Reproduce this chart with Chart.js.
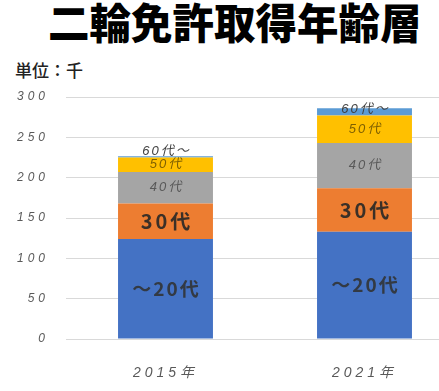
<!DOCTYPE html>
<html lang="ja">
<head>
<meta charset="UTF-8">
<title>二輪免許取得年齢層</title>
<script src="https://cdn.jsdelivr.net/npm/chart.js"></script>
<style>
    html, body { margin: 0; padding: 0; overflow: hidden; background: #fff; }
    body { width: 439px; height: 391px; position: relative; }
    .title {
        position: absolute; left: 48px; top: 1px;
        font: 900 41.5px "Noto Sans CJK JP", sans-serif;
        line-height: 1; color: #000; white-space: nowrap;
    }
    .unit {
        position: absolute; left: 15px; top: 61px;
        font: 500 17px "Noto Sans CJK JP", sans-serif;
        line-height: 1.1; color: #222;
    }
    .chart-box { position: absolute; left: 0; top: 80px; width: 480px; height: 311px; }
</style>
</head>
<body>
    <div class="title">二輪免許取得年齢層</div>
    <div class="unit">単位：千</div>
    <div class="chart-box"><canvas id="chart"></canvas></div>

<script>
// values in thousands
const categories = ['2015年', '2021年'];
const seriesNames = ['～20代', '30代', '40代', '50代', '60代～'];
const under20 = [124, 133];
const age30 = [44, 54];
const age40 = [39, 56];
const age50 = [18, 34];
const over60 = [1.5, 9];
const yMax = 300;
const yStep = 50;

const colors = ['#4472C4', '#ED7D31', '#A5A5A5', '#FFC000', '#5B9BD5'];
const labelStyles = [
    { font: 'bold 19px "Noto Sans CJK JP", sans-serif', color: '#333a44', spacing: '2px' },
    { font: 'bold 20px "Noto Sans CJK JP", sans-serif', color: '#3b3027', spacing: '3px' },
    { font: 'italic 13px "Liberation Sans", "Noto Sans CJK JP", sans-serif', color: '#595959', spacing: '2px' },
    { font: 'italic 13px "Liberation Sans", "Noto Sans CJK JP", sans-serif', color: '#7f6000', spacing: '2px' },
    { font: 'italic 13px "Liberation Sans", "Noto Sans CJK JP", sans-serif', color: '#404040', spacing: '2px', above: true }
];

// letter spacing for the axis labels
const spacingPlugin = {
    id: 'spacing',
    beforeDraw(chart) { chart.ctx.letterSpacing = '4px'; },
    afterDraw(chart) { chart.ctx.letterSpacing = '0px'; }
};

// series name written on each segment
const segmentLabels = {
    id: 'segmentLabels',
    afterDatasetsDraw(chart) {
        const ctx = chart.ctx;
        chart.data.datasets.forEach((ds, i) => {
            const st = labelStyles[i];
            chart.getDatasetMeta(i).data.forEach(bar => {
                ctx.save();
                ctx.font = st.font;
                ctx.fillStyle = st.color;
                ctx.letterSpacing = st.spacing;
                ctx.textAlign = 'center';
                const sp = parseFloat(st.spacing);
                if (st.above) {
                    ctx.textBaseline = 'bottom';
                    ctx.fillText(ds.label, bar.x + sp / 2, bar.base);
                } else {
                    ctx.textBaseline = 'middle';
                    ctx.fillText(ds.label, bar.x + sp / 2, (bar.y + bar.base) / 2);
                }
                ctx.restore();
            });
        });
    }
};

const seriesValues = [under20, age30, age40, age50, over60];

new Chart(document.getElementById('chart'), {
    type: 'bar',
    data: {
        labels: categories,
        datasets: seriesNames.map((name, i) => ({
            label: name,
            data: seriesValues[i],
            backgroundColor: colors[i],
            borderWidth: 0,
            categoryPercentage: 1,
            barPercentage: 0.477
        }))
    },
    options: {
        responsive: true,
        maintainAspectRatio: false,
        animation: false,
        layout: { padding: { top: 17, right: 16, left: 0, bottom: 0 } },
        plugins: {
            legend: { display: false },
            tooltip: { enabled: false }
        },
        scales: {
            x: {
                stacked: true,
                grid: { display: false },
                border: { display: false },
                ticks: {
                    padding: 18,
                    color: '#595959',
                    font: { family: '"Liberation Sans", "Noto Sans CJK JP", sans-serif', size: 14, style: 'italic' }
                },
                afterFit(scale) { scale.height = 52; }
            },
            y: {
                stacked: true,
                min: 0,
                max: yMax,
                grid: { color: '#d9d9d9', lineWidth: 1, drawTicks: false },
                border: { display: false },
                ticks: {
                    stepSize: yStep,
                    padding: 17,
                    color: '#595959',
                    font: { family: '"Liberation Sans", sans-serif', size: 12, style: 'italic' }
                },
                afterFit(scale) {
                    scale.width = 66;
                    // tick padding should not push the plot down
                    scale.paddingTop = 0;
                    scale.paddingBottom = 0;
                }
            }
        }
    },
    plugins: [spacingPlugin, segmentLabels]
});
</script>
</body>
</html>
